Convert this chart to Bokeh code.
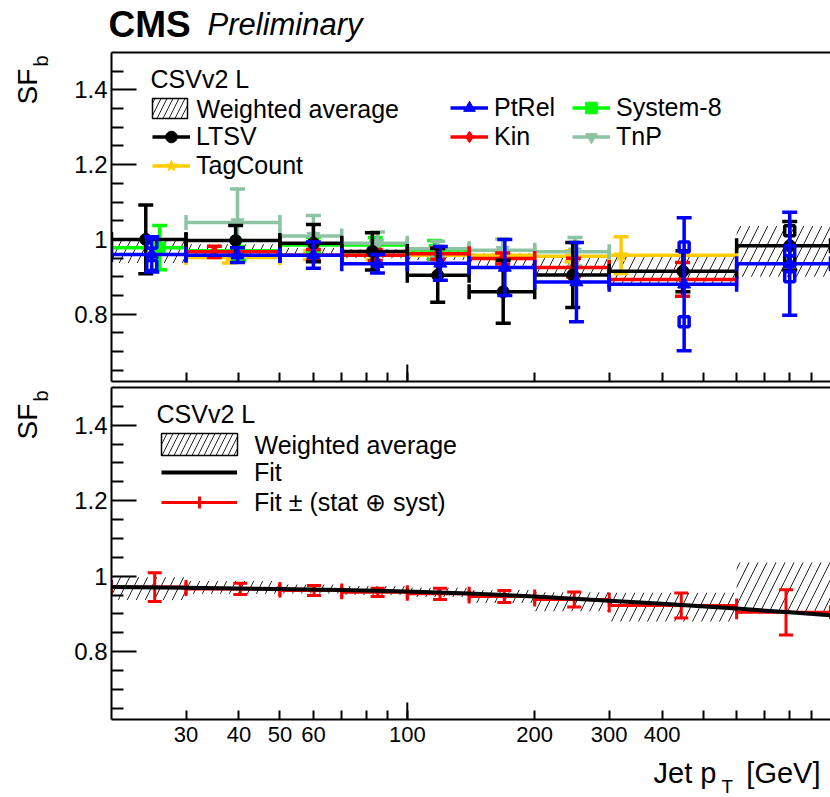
from bokeh.plotting import figure
from bokeh.layouts import column, row
from bokeh.models import (ColumnDataSource, FixedTicker, CustomJSTickFormatter, Label,
                          Legend, LegendItem, LinearAxis, BoxAnnotation)
from bokeh.embed import file_html
from bokeh.resources import INLINE

FONT = "Liberation Sans"

# ---------------- data ----------------
X_RANGE = (20, 1000)
Y_RANGE = (0.62, 1.5)
EDGES = [20, 30, 50, 70, 100, 140, 200, 300, 600, 1000]

XTICKS_LABELED = [30, 40, 50, 60, 100, 200, 300, 400]
XTICKS_UNLABELED = [70, 80, 90, 500, 600, 700, 800, 900]
XTICK_LONG = [100]
YTICKS = [0.8, 1.0, 1.2, 1.4]
YTICKS_MINOR = [0.65, 0.7, 0.75, 0.85, 0.9, 0.95, 1.05, 1.1, 1.15, 1.25, 1.3, 1.35, 1.45]

# weighted average (hatched band), one value per bin
WA_BINS = [0, 1, 2, 3, 4, 5, 6, 7, 8]
WA_CENTER = [0.967, 0.970, 0.966, 0.962, 0.957, 0.946, 0.932, 0.918, 0.968]
WA_HALF = [0.030, 0.017, 0.012, 0.012, 0.012, 0.017, 0.025, 0.038, 0.068]

# LTSV
LTSV_BINS = [0, 1, 2, 3, 4, 5, 6, 7, 8]
LTSV_X = [24.1, 39.3, 60.0, 82.7, 118.0, 168.5, 246.0, 448.0, 801.0]
LTSV_Y = [1.000, 0.997, 0.990, 0.968, 0.904, 0.860, 0.905, 0.915, 0.983]
LTSV_ERR = [0.092, 0.040, 0.050, 0.050, 0.072, 0.084, 0.087, 0.055, 0.065]
LTSV_STAT = [0, 0, 0, 0, 0, 0, 0, 0, 0.040]

# PtRel
PTREL_BINS = [0, 1, 2, 3, 4, 5, 6, 7, 8]
PTREL_X = [24.9, 39.7, 60.0, 85.0, 119.7, 170.0, 251.0, 451.0, 801.0]
PTREL_Y = [0.960, 0.958, 0.958, 0.935, 0.936, 0.925, 0.886, 0.880, 0.935]
PTREL_ERR = [0.047, 0.020, 0.035, 0.025, 0.045, 0.075, 0.106, 0.178, 0.138]
PTREL_STAT = [0.030, 0, 0, 0, 0, 0, 0, 0.100, 0.035]

# Kin
KIN_BINS = [1, 2, 3, 4, 5, 6, 7]
KIN_X = [35.0, 60.0, 84.0, 118.0, 168.0, 247.0, 447.0]
KIN_Y = [0.967, 0.958, 0.958, 0.962, 0.949, 0.925, 0.893]
KIN_ERR = [0.015, 0.015, 0.015, 0.015, 0.015, 0.025, 0.045]

# TagCount
TC_BINS = [1, 2, 3, 4, 5, 6, 7]
TC_X = [38.0, 59.0, 83.0, 118.0, 167.0, 245.0, 320.0]
TC_Y = [0.952, 0.958, 0.958, 0.958, 0.958, 0.955, 0.958]
TC_ERR = [0.015, 0.012, 0.012, 0.012, 0.012, 0.015, 0.049]

# System-8
S8_BINS = [0, 1, 2, 3, 4]
S8_X = [26.0, 40.0, 60.0, 84.0, 116.0]
S8_Y = [0.978, 0.970, 0.985, 0.985, 0.972]
S8_ERR = [0.059, 0.027, 0.020, 0.020, 0.025]

# TnP
TNP_BINS = [1, 2, 3, 4, 5, 6]
TNP_X = [39.7, 60.0, 85.0, 118.0, 168.0, 249.0]
TNP_Y = [1.045, 1.009, 0.990, 0.975, 0.971, 0.967]
TNP_ERR = [0.090, 0.055, 0.030, 0.020, 0.030, 0.038]

# Fit (lower panel)
FIT_PT = [20, 30, 50, 70, 100, 140, 200, 300, 400, 600, 800, 1000]
FIT_SF = [0.971, 0.969, 0.966, 0.963, 0.959, 0.954, 0.946, 0.935, 0.927, 0.914, 0.904, 0.896]

FITERR_BINS = [0, 1, 2, 3, 4, 5, 6, 7, 8]
FITERR_X = [25.3, 40.3, 60.2, 85.1, 119.5, 169.5, 248.0, 444.0, 785.0]
FITERR_Y = [0.971, 0.966, 0.962, 0.957, 0.953, 0.946, 0.938, 0.922, 0.904]
FITERR_ERR = [0.038, 0.015, 0.013, 0.011, 0.015, 0.016, 0.020, 0.033, 0.060]

# colours
C_LTSV = "#000000"
C_PTREL = "#0000FF"
C_KIN = "#FF0000"
C_TC = "#FFCC00"
C_S8 = "#00FF00"
C_TNP = "#8CC3A2"

LEFT_W = 50
FRAME_W = 719
TOP_FRAME_H = 329
BOT_FRAME_H = 332
TITLE_H = 48
TOP_FIG_H = 4 + TOP_FRAME_H + 2
BOT_FIG_H = 4 + BOT_FRAME_H + 34
XTITLE_H = 797 - TITLE_H - TOP_FIG_H - BOT_FIG_H


def lo_hi(bins):
    return [EDGES[b] for b in bins], [EDGES[b + 1] for b in bins]


def make_panel(frame_h, border_bottom, show_labels):
    p = figure(x_axis_type="log", x_range=X_RANGE, y_range=Y_RANGE,
               frame_width=FRAME_W, frame_height=frame_h,
               min_border_left=111 - LEFT_W, min_border_right=0,
               min_border_top=4, min_border_bottom=border_bottom,
               toolbar_location=None, output_backend="svg",
               outline_line_color=None, background_fill_color="white",
               border_fill_color="white")
    p.xgrid.visible = False
    p.ygrid.visible = False
    for ax in (p.xaxis[0], p.yaxis[0]):
        ax.axis_line_width = 2
        ax.axis_line_color = "black"
        ax.major_tick_line_width = 2
        ax.minor_tick_line_width = 2
        ax.major_tick_out = 0
        ax.minor_tick_out = 0
        ax.major_label_text_font = FONT
        ax.major_label_text_color = "black"
    xa = p.xaxis[0]
    xa.ticker = FixedTicker(ticks=XTICKS_LABELED, minor_ticks=XTICKS_UNLABELED)
    xa.major_tick_in = 9
    xa.minor_tick_in = 9
    if show_labels:
        xa.formatter = CustomJSTickFormatter(code="return String(tick)")
        xa.major_label_text_font_size = "22px"
        xa.major_label_standoff = 7
    else:
        xa.formatter = CustomJSTickFormatter(code="return ''")
        xa.major_label_text_font_size = "0px"
        xa.major_label_standoff = 0
    ya = p.yaxis[0]
    ya.ticker = FixedTicker(ticks=YTICKS, minor_ticks=YTICKS_MINOR)
    ya.formatter = CustomJSTickFormatter(code="return String(Math.round(tick*10)/10)")
    ya.major_tick_in = 25
    ya.minor_tick_in = 12
    ya.major_label_text_font_size = "24px"
    ya.major_label_standoff = 4
    top = LinearAxis(ticker=FixedTicker(ticks=[]), major_label_text_font_size="0px",
                     major_label_standoff=0, axis_line_width=2, axis_line_color="black",
                     major_tick_out=0, minor_tick_out=0)
    p.add_layout(top, "above")
    # longer tick at 100 GeV
    span = (Y_RANGE[1] - Y_RANGE[0]) * 17.0 / frame_h
    p.segment(x0=XTICK_LONG, y0=[Y_RANGE[0]] * len(XTICK_LONG), x1=XTICK_LONG,
              y1=[Y_RANGE[0] + span] * len(XTICK_LONG), line_color="black", line_width=2)
    return p


def text_fig(w, h):
    f = figure(x_range=(0, w), y_range=(0, h), frame_width=w, frame_height=h,
               min_border=0, toolbar_location=None, output_backend="svg",
               outline_line_color=None, x_axis_location=None, y_axis_location=None,
               background_fill_color="white", border_fill_color="white")
    f.xgrid.visible = False
    f.ygrid.visible = False
    return f


def add_hatch(p, bins, center, half):
    lo, hi = lo_hi(bins)
    src = ColumnDataSource(dict(l=lo, r=hi, b=[c - h for c, h in zip(center, half)],
                                t=[c + h for c, h in zip(center, half)]))
    p.quad(left="l", right="r", bottom="b", top="t", source=src, fill_alpha=0,
           line_alpha=0, hatch_pattern="/", hatch_color="#222222", hatch_scale=18,
           hatch_weight=1)


def add_method(p, bins, x, y, err, color, marker, msize, stat=None, lw=3.5, cap=15):
    lo, hi = lo_hi(bins)
    src = ColumnDataSource(dict(lo=lo, hi=hi, x=x, y=y,
                                up=[a + e for a, e in zip(y, err)],
                                dn=[a - e for a, e in zip(y, err)]))
    hseg = p.segment("lo", "y", "hi", "y", source=src, line_color=color, line_width=lw)
    p.segment("x", "dn", "x", "up", source=src, line_color=color, line_width=lw)
    for f in ("up", "dn"):
        p.scatter("x", f, source=src, marker="dash", size=cap, line_color=color, line_width=lw)
    for f in ("lo", "hi"):
        p.scatter(f, "y", source=src, marker="dash", angle=90, angle_units="deg",
                  size=cap, line_color=color, line_width=lw)
    if stat is not None:
        sx = [xi for xi, s in zip(x, stat) if s > 0]
        sy = [yi for yi, s in zip(y, stat) if s > 0]
        ss = [s for s in stat if s > 0]
        ssrc = ColumnDataSource(dict(x=sx + sx, y=[a + s for a, s in zip(sy, ss)] +
                                     [a - s for a, s in zip(sy, ss)]))
        p.scatter("x", "y", source=ssrc, marker="square", size=10, fill_alpha=0,
                  line_color=color, line_width=lw)
    rends = [hseg]
    if marker is not None:
        rends.append(p.scatter("x", "y", source=src, marker=marker, size=msize,
                               fill_color=color, line_color=color))
    return rends, src


def legend(p, items, x, y, glyph_w, glyph_h, standoff):
    lg = Legend(items=[LegendItem(label=t, renderers=r) for t, r in items],
                location=(x, y), orientation="vertical", glyph_width=glyph_w,
                glyph_height=glyph_h, label_text_font=FONT, label_text_font_size="25px",
                label_text_color="black", label_standoff=standoff, spacing=0,
                padding=0, margin=0, border_line_color=None, background_fill_alpha=0,
                label_height=20)
    p.add_layout(lg)


def text(p, x, y, s, size, style="normal", angle=0, align="left", baseline="middle",
         units="screen"):
    p.add_layout(Label(x=x, y=y, x_units=units, y_units=units, text=s,
                       text_font=FONT, text_font_size=size, text_font_style=style,
                       angle=angle, angle_units="deg", text_align=align,
                       text_baseline=baseline, text_color="black"))


def hatch_box(p, left, right, top, bottom):
    p.add_layout(BoxAnnotation(left=left, right=right, top=top, bottom=bottom,
                               left_units="screen", right_units="screen",
                               top_units="screen", bottom_units="screen",
                               fill_alpha=0, line_color="black", line_width=1.5,
                               line_alpha=1, hatch_pattern="/", hatch_color="#222222",
                               hatch_scale=12, hatch_weight=1, editable=False))


# ---------------- upper panel ----------------
top = make_panel(TOP_FRAME_H, 2, False)
add_hatch(top, WA_BINS, WA_CENTER, WA_HALF)
r_tc, _ = add_method(top, TC_BINS, TC_X, TC_Y, TC_ERR, C_TC, "star", 14)
r_s8, _ = add_method(top, S8_BINS, S8_X, S8_Y, S8_ERR, C_S8, "square", 11)
r_tnp, _ = add_method(top, TNP_BINS, TNP_X, TNP_Y, TNP_ERR, C_TNP, "inverted_triangle", 13)
r_kin, _ = add_method(top, KIN_BINS, KIN_X, KIN_Y, KIN_ERR, C_KIN, "diamond", 13)
r_ltsv, _ = add_method(top, LTSV_BINS, LTSV_X, LTSV_Y, LTSV_ERR, C_LTSV, "circle", 12, stat=LTSV_STAT)
r_ptrel, _ = add_method(top, PTREL_BINS, PTREL_X, PTREL_Y, PTREL_ERR, C_PTREL, "triangle", 13, stat=PTREL_STAT)

hatch_box(top, 41, 76, TOP_FRAME_H - 46, TOP_FRAME_H - 66)
text(top, 85, TOP_FRAME_H - 56, "Weighted average", "25px")
legend(top, [("LTSV", r_ltsv), ("TagCount", r_tc)], 41, 201, 38, 29, 6)
legend(top, [("PtRel", r_ptrel), ("Kin", r_kin)], 339, 230, 38, 29, 6)
legend(top, [("System-8", r_s8), ("TnP", r_tnp)], 461, 230, 38, 29, 6)
text(top, 39, TOP_FRAME_H - 26, "CSVv2 L", "25px")

# ---------------- lower panel ----------------
bot = make_panel(BOT_FRAME_H, 34, True)
add_hatch(bot, WA_BINS, WA_CENTER, WA_HALF)
r_fe, fe_src = add_method(bot, FITERR_BINS, FITERR_X, FITERR_Y, FITERR_ERR, C_KIN, None, 0, lw=3, cap=14)
fit_r = bot.line(FIT_PT, FIT_SF, line_color="black", line_width=4)
# zero-size markers on the fit points: only give the legend its vertical tick
fe_tick = bot.scatter("x", "y", source=fe_src, marker="cross", size=0, line_color=C_KIN, line_width=3)
hatch_box(bot, 50, 126, BOT_FRAME_H - 46, BOT_FRAME_H - 68)
text(bot, 143, BOT_FRAME_H - 57, "Weighted average", "25px")
legend(bot, [("Fit", [fit_r]), ("Fit \u00b1 (stat \u2295 syst)", [r_fe[0], fe_tick])], 50, 202, 76, 30, 17)
text(bot, 45, BOT_FRAME_H - 26, "CSVv2 L", "25px")

# ---------------- text strips ----------------
title = text_fig(111 + FRAME_W, TITLE_H)
text(title, 108, TITLE_H - 24, "CMS", "37px", style="bold", units="data")
text(title, 207, TITLE_H - 24, "Preliminary", "31px", style="italic", units="data")

sf_top = text_fig(LEFT_W, TOP_FIG_H)
text(sf_top, 27, TOP_FIG_H - 52, "SF", "28px", angle=90, units="data")
text(sf_top, 40, TOP_FIG_H - 14, "b", "20px", angle=90, units="data")

sf_bot = text_fig(LEFT_W, BOT_FIG_H)
text(sf_bot, 27, BOT_FIG_H - 52, "SF", "28px", angle=90, units="data")
text(sf_bot, 40, BOT_FIG_H - 14, "b", "20px", angle=90, units="data")

# x-axis title strip starts at page y = 797 - XTITLE_H
xt_top = 797 - XTITLE_H
xtitle = text_fig(111 + FRAME_W, XTITLE_H)
text(xtitle, 653, XTITLE_H - (772 - xt_top), "Jet p", "29px", units="data")
text(xtitle, 721, XTITLE_H - (786 - xt_top), "T", "19px", units="data")
text(xtitle, 820, XTITLE_H - (772 - xt_top), "[GeV]", "29px", align="right", units="data")

layout = column(title, row(sf_top, top, spacing=0), row(sf_bot, bot, spacing=0), xtitle, spacing=0)
open("out.html", "w").write(file_html(layout, INLINE))
